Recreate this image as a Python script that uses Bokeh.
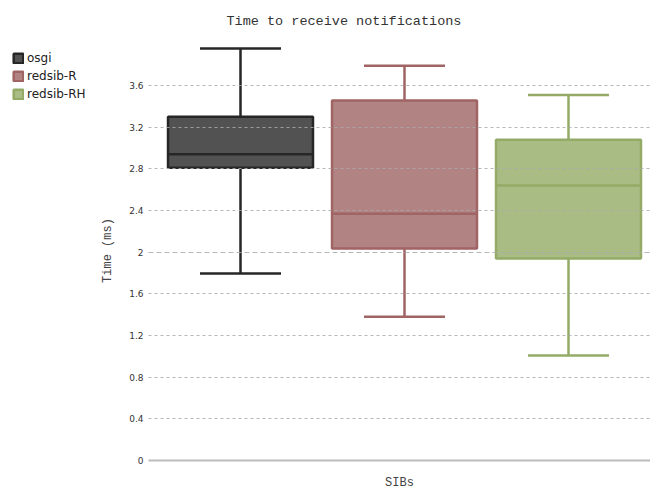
from bokeh.plotting import figure
from bokeh.layouts import row
from bokeh.models import Range1d, FixedTicker, Legend, LegendItem, Grid
from bokeh.embed import file_html
from bokeh.resources import INLINE

# ---- data ----
series = ["osgi", "redsib-R", "redsib-RH"]
whisker_low = [1.795, 1.38, 1.008]
q1 = [2.81, 2.035, 1.94]
median = [2.94, 2.37, 2.64]
q3 = [3.30, 3.456, 3.08]
whisker_high = [3.955, 3.79, 3.51]
fill_colors = ["#525252", "#b18383", "#a8bc84"]
line_colors = ["#262626", "#a06464", "#93ab66"]
y_ticks = [0, 0.4, 0.8, 1.2, 1.6, 2.0, 2.4, 2.8, 3.2, 3.6]
y_tick_labels = ["0", "0.4", "0.8", "1.2", "1.6", "2", "2.4", "2.8", "3.2", "3.6"]

BOX_W = 0.884
CAP_W = 0.494
xs = [i + 1 for i in range(len(series))]

# ---- main plot ----
p = figure(width=553, height=492, output_backend="svg", toolbar_location=None,
           x_range=Range1d(0.439, 3.5), y_range=Range1d(0, 4.032),
           min_border_left=51, min_border_right=0, min_border_top=40, min_border_bottom=32)
p.outline_line_color = None
p.background_fill_color = "white"
p.border_fill_color = "white"

p.title.text = "Time to receive notifications"
p.title.align = "left"
p.title.offset = 78
p.title.text_font = "Liberation Mono"
p.title.text_font_size = "13.5px"
p.title.text_font_style = "normal"
p.title.text_color = "#333333"
p.title.standoff = 23

for i, name in enumerate(series):
    x = xs[i]
    lc, fc = line_colors[i], fill_colors[i]
    p.segment(x0=[x, x], y0=[q3[i], q1[i]], x1=[x, x], y1=[whisker_high[i], whisker_low[i]],
              line_color=lc, line_width=2.5)
    p.segment(x0=[x - CAP_W / 2, x - CAP_W / 2], y0=[whisker_high[i], whisker_low[i]],
              x1=[x + CAP_W / 2, x + CAP_W / 2], y1=[whisker_high[i], whisker_low[i]],
              line_color=lc, line_width=2.5)
    p.vbar(x=[x], width=BOX_W, bottom=[q1[i]], top=[q3[i]], fill_color=fc,
           line_color=lc, line_width=2.5)
    p.segment(x0=[x - BOX_W / 2], y0=[median[i]], x1=[x + BOX_W / 2], y1=[median[i]],
              line_color=lc, line_width=2.5)

p.yaxis.ticker = FixedTicker(ticks=y_ticks)
p.yaxis.major_label_overrides = {t: l for t, l in zip(y_ticks, y_tick_labels)}
p.yaxis.axis_line_color = None
p.yaxis.major_tick_line_color = None
p.yaxis.minor_tick_line_color = None
p.yaxis.major_tick_out = 0
p.yaxis.major_label_standoff = 5
p.yaxis.major_label_text_font = "DejaVu Sans"
p.yaxis.major_label_text_font_size = "9px"
p.yaxis.major_label_text_color = "#333333"
p.yaxis.axis_label = "Time (ms)"
p.yaxis.axis_label_text_font = "Liberation Mono"
p.yaxis.axis_label_text_font_style = "normal"
p.yaxis.axis_label_text_font_size = "12px"
p.yaxis.axis_label_text_color = "#444444"
p.yaxis.axis_label_standoff = 11

p.xaxis.ticker = FixedTicker(ticks=[])
p.xaxis.axis_line_color = "#bbbbbb"
p.xaxis.axis_line_width = 2
p.xaxis.major_tick_line_color = None
p.xaxis.minor_tick_line_color = None
p.xaxis.major_label_text_font_size = "0px"
p.xaxis.axis_label = "SIBs"
p.xaxis.axis_label_text_font = "Liberation Mono"
p.xaxis.axis_label_text_font_style = "normal"
p.xaxis.axis_label_text_font_size = "12px"
p.xaxis.axis_label_text_color = "#444444"
p.xaxis.axis_label_standoff = 15

p.xgrid.grid_line_color = None
fine_ticks = [t for t in y_ticks[1:] if t != 2.0]
coarse_ticks = [t for t in y_ticks if t == 2.0]
p.ygrid.ticker = FixedTicker(ticks=fine_ticks)
p.ygrid.grid_line_color = "#aaaaaa"
p.ygrid.grid_line_alpha = 0.85
p.ygrid.grid_line_dash = "3 3"
p.ygrid.grid_line_width = 1
p.ygrid.level = "overlay"
g2 = Grid(dimension=1, ticker=FixedTicker(ticks=coarse_ticks), grid_line_color="#aaaaaa",
          grid_line_alpha=0.85, grid_line_dash="5 3", grid_line_width=1, level="overlay")
p.add_layout(g2)

# ---- legend panel ----
lg = figure(width=97, height=492, output_backend="svg", toolbar_location=None,
            x_range=Range1d(0, 1), y_range=Range1d(0, 1),
            min_border_left=0, min_border_right=0, min_border_top=40, min_border_bottom=32)
lg.axis.visible = False
lg.grid.visible = False
lg.outline_line_color = None
nan = float("nan")
items = []
for i, name in enumerate(series):
    # undrawn (NaN) bar so the legend swatch has a style to draw from
    r = lg.vbar(x=[nan], width=0.1, bottom=[nan], top=[nan], fill_color=fill_colors[i],
                line_color=line_colors[i], line_width=2.5)
    items.append(LegendItem(label=name, renderers=[r]))
legend = Legend(items=items, location=(12, 359), orientation="vertical",
                label_text_font="DejaVu Sans", label_text_font_size="12px",
                label_text_color="#222222", glyph_width=12, glyph_height=12,
                label_standoff=3, spacing=4, padding=0, margin=0,
                border_line_color=None, background_fill_alpha=0, label_height=12)
lg.add_layout(legend, "center")

layout = row(lg, p, spacing=0)
open("out.html", "w").write(file_html(layout, INLINE))
